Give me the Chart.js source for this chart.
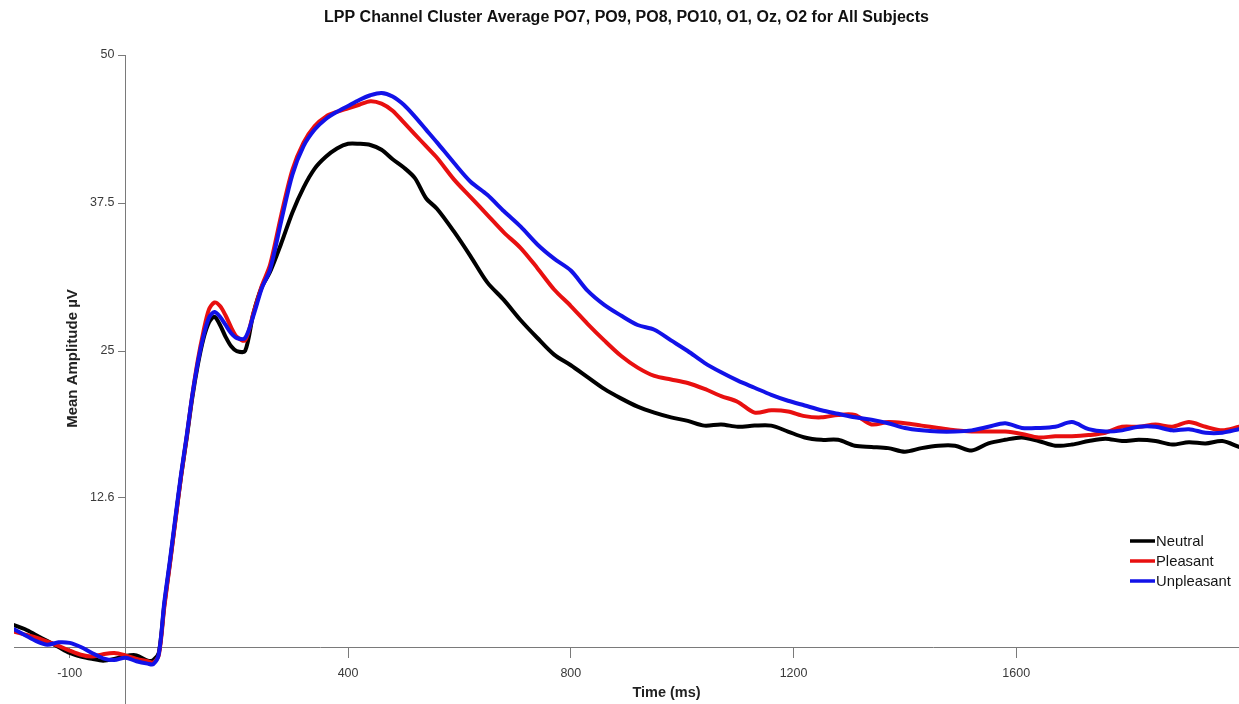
<!DOCTYPE html>
<html>
<head>
<meta charset="utf-8">
<script src="https://cdn.jsdelivr.net/npm/chart.js@4.4.1/dist/chart.umd.min.js"></script>
<style>
  html, body { margin: 0; padding: 0; background: #fff; overflow: hidden; }
  #wrap { width: 1239px; height: 704px; position: relative; }
</style>
</head>
<body>
<div id="wrap"><canvas id="lpp-chart"></canvas></div>
<script>
const timesMs = [
  -200, -180, -160, -140, -120, -100, -80, -60, -40, -20, 0, 20, 40,
  50, 60, 70, 80, 90, 100, 110, 120, 130, 140, 150, 160, 170, 180, 190, 200,
  215, 230, 245,
  260, 280, 300, 320, 340, 360, 380, 400, 420, 440, 460, 480, 500, 520, 540, 560,
  590, 620, 650, 680, 710, 740, 770, 800, 830, 860, 890, 920, 950, 980, 1010, 1040,
  1070, 1100, 1130, 1160, 1190, 1220, 1250, 1280, 1310, 1340, 1370, 1400, 1430, 1460,
  1490, 1520, 1550, 1580, 1610, 1640, 1670, 1700, 1730, 1760, 1790, 1820, 1850, 1880,
  1910, 1940, 1970, 2000,
];

const neutralAmp = [
  1.85, 1.5, 1.0, 0.5, 0.0, -0.5, -0.8, -1.0, -1.15, -1.0, -0.75, -0.7, -1.15,
  -1.1, -0.5, 3.6, 7.1, 10.8, 14.4, 17.6, 21.0, 23.8, 26.0, 27.4, 27.9, 27.2, 26.2, 25.4, 25.0,
  25.0, 28.2, 30.4,
  31.7, 34.1, 36.7, 38.8, 40.4, 41.4, 42.1, 42.5, 42.5, 42.4, 42.0, 41.2, 40.5, 39.6, 37.9, 37.0,
  35.1, 33.0, 30.8, 29.3, 27.6, 26.1, 24.7, 23.8, 22.8, 21.8, 21.0, 20.3, 19.8, 19.4, 19.1, 18.7,
  18.8, 18.6, 18.7, 18.7, 18.2, 17.7, 17.5, 17.5, 17.0, 16.9, 16.8, 16.5, 16.8, 17.0,
  17.0, 16.6, 17.2, 17.5, 17.7, 17.4, 17.0, 17.1, 17.4, 17.6, 17.4, 17.5, 17.4, 17.1,
  17.3, 17.2, 17.4, 16.9,
];

const pleasantAmp = [
  1.3, 1.05, 0.8, 0.45, 0.1, -0.3, -0.65, -0.8, -0.6, -0.5, -0.7, -1.0, -1.2,
  -1.3, -0.7, 3.4, 7.0, 10.7, 14.4, 17.7, 21.2, 24.2, 26.6, 28.5, 29.1, 28.8, 28.0, 27.0, 26.2,
  25.9, 28.2, 30.5,
  32.3, 36.5, 40.3, 42.6, 44.0, 44.8, 45.2, 45.5, 45.8, 46.1, 45.9, 45.3, 44.3, 43.3, 42.3, 41.3,
  39.5, 38.0, 36.5, 35.0, 33.7, 32.0, 30.2, 28.8, 27.3, 25.9, 24.6, 23.6, 22.9, 22.6, 22.3, 21.8,
  21.2, 20.7, 19.8, 20.0, 19.9, 19.5, 19.4, 19.6, 19.6, 18.8, 19.0, 18.9, 18.7, 18.5,
  18.3, 18.2, 18.2, 18.2, 18.0, 17.7, 17.8, 17.8, 17.9, 18.1, 18.6, 18.6, 18.8, 18.6,
  19.0, 18.6, 18.3, 18.6,
];

const unpleasantAmp = [
  1.5, 1.0, 0.5, 0.2, 0.4, 0.35, 0.0, -0.5, -0.95, -1.1, -0.9, -1.2, -1.4,
  -1.45, -0.6, 3.8, 7.3, 11.0, 14.6, 17.8, 21.2, 24.0, 26.2, 27.8, 28.3, 27.9, 27.2, 26.5, 26.1,
  26.1, 28.0, 30.3,
  31.9, 36.0, 39.9, 42.3, 43.7, 44.6, 45.2, 45.7, 46.2, 46.6, 46.8, 46.5, 45.8, 44.8, 43.7, 42.6,
  40.9, 39.3, 38.2, 36.8, 35.5, 34.0, 32.8, 31.8, 30.1, 28.9, 28.0, 27.2, 26.8, 25.9, 25.0, 24.0,
  23.2, 22.5, 21.9, 21.3, 20.8, 20.4, 20.0, 19.7, 19.4, 19.2, 18.9, 18.5, 18.3, 18.2,
  18.2, 18.3, 18.6, 18.9, 18.5, 18.5, 18.6, 19.0, 18.4, 18.2, 18.3, 18.6, 18.6, 18.3,
  18.4, 18.1, 18.1, 18.4,
];

const xTickValues = [-100, 400, 800, 1200, 1600];
const yTickValues = [12.6, 25, 37.5, 50];

const FONT = '"Liberation Sans", Arial, sans-serif';
const AXIS_GREY = "#7a7a7a";
const TICK_TEXT = "#3a3a3a";

const toPoints = (values) => timesMs.map((t, i) => ({ x: t, y: values[i] }));

// legend drawn inside the plot, bottom right, with short thick strokes
const lineLegend = {
  id: "lineLegend",
  afterDraw(chart) {
    const { ctx, chartArea } = chart;
    const x = chartArea.right - 109;
    ctx.save();
    ctx.font = "14.8px " + FONT;
    ctx.textBaseline = "middle";
    chart.data.datasets.forEach((ds, i) => {
      const y = chartArea.bottom - 163 + i * 20;
      ctx.strokeStyle = ds.borderColor;
      ctx.lineWidth = 3.5;
      ctx.beginPath();
      ctx.moveTo(x, y);
      ctx.lineTo(x + 25, y);
      ctx.stroke();
      ctx.fillStyle = "#151515";
      ctx.fillText(ds.label, x + 26, y + 1);
    });
    ctx.restore();
  },
};

// y tick labels and axis titles, placed next to the crossing axes
const axisText = {
  id: "axisText",
  afterDraw(chart) {
    const { ctx, chartArea, scales } = chart;
    const axisY = scales.y.getPixelForValue(0);
    const axisX = scales.x.getPixelForValue(0);
    ctx.save();

    ctx.fillStyle = TICK_TEXT;
    ctx.font = "12.5px " + FONT;
    ctx.textAlign = "right";
    ctx.textBaseline = "middle";
    yTickValues.forEach((v) => {
      ctx.fillText(String(v), axisX - 11, scales.y.getPixelForValue(v));
    });

    ctx.fillStyle = "#222";
    ctx.font = "bold 14.5px " + FONT;
    ctx.textAlign = "center";
    ctx.fillText("Time (ms)", (chartArea.left + chartArea.right) / 2 + 40, axisY + 46);
    ctx.font = "bold 15px " + FONT;
    ctx.translate(axisX - 53, (chartArea.top + chartArea.bottom) / 2 - 21);
    ctx.rotate(-Math.PI / 2);
    ctx.fillText("Mean Amplitude \u00b5V", 0, 0);
    ctx.restore();
  },
};

const lppChart = new Chart(document.getElementById("lpp-chart"), {
  type: "line",
  data: {
    datasets: [
      {
        label: "Neutral",
        data: toPoints(neutralAmp),
        borderColor: "#000000",
        order: 2,
      },
      {
        label: "Pleasant",
        data: toPoints(pleasantAmp),
        borderColor: "#e81010",
        order: 1,
      },
      {
        label: "Unpleasant",
        data: toPoints(unpleasantAmp),
        borderColor: "#1212e8",
        order: 0,
      },
    ],
  },
  options: {
    responsive: true,
    maintainAspectRatio: false,
    animation: false,
    layout: { padding: { left: 14, right: 0, top: 0, bottom: -12 } },
    elements: {
      line: { borderWidth: 4, tension: 0.3, borderCapStyle: "round", borderJoinStyle: "round", fill: false },
      point: { radius: 0 },
    },
    plugins: {
      legend: { display: false },
      tooltip: { enabled: false },
      title: {
        display: true,
        text: "LPP Channel Cluster Average PO7, PO9, PO8, PO10, O1, Oz, O2 for All Subjects",
        color: "#111",
        font: { family: FONT, size: 16, weight: "bold" },
        padding: { top: 8, bottom: 27.8 },
      },
    },
    scales: {
      x: {
        type: "linear",
        position: { y: 0 },
        min: -200,
        max: 2000,
        afterBuildTicks: (scale) => {
          scale.ticks = xTickValues.map((v) => ({ value: v }));
        },
        ticks: {
          color: TICK_TEXT,
          font: { family: FONT, size: 12.5 },
          padding: 9,
          maxRotation: 0,
          autoSkip: false,
          callback: (v) => String(v),
        },
        grid: { drawOnChartArea: false, drawTicks: true, tickLength: 10, color: AXIS_GREY },
        border: { display: true, color: AXIS_GREY, width: 1 },
      },
      y: {
        type: "linear",
        position: { x: 0 },
        min: -4.81,
        max: 50,
        afterBuildTicks: (scale) => {
          scale.ticks = yTickValues.map((v) => ({ value: v }));
        },
        ticks: { display: false },
        grid: { drawOnChartArea: false, drawTicks: true, tickLength: 7, color: AXIS_GREY },
        border: { display: true, color: AXIS_GREY, width: 1 },
      },
    },
  },
  plugins: [lineLegend, axisText],
});
</script>
</body>
</html>
